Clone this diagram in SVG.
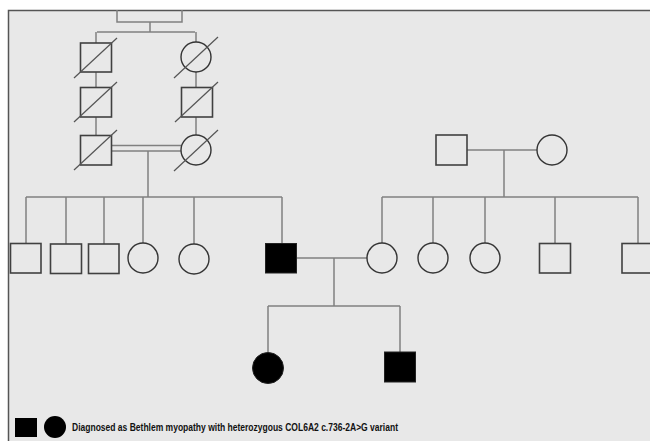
<svg xmlns="http://www.w3.org/2000/svg" width="650" height="441" viewBox="0 0 650 441">
<style>
.ln{stroke:#808080;stroke-width:1.5;fill:none}
.sq{fill:none;stroke:#404040;stroke-width:1.6}
.ci{fill:none;stroke:#333;stroke-width:1.4}
.aff{fill:#000;stroke:#222;stroke-width:1}
.sl{stroke:#555;stroke-width:1.2}
.lbl{font-family:"Liberation Sans",Arial,sans-serif;font-weight:bold;font-size:10.5px;fill:#111}
</style>
<rect x="0" y="0" width="650" height="441" fill="#fff"/>
<rect x="8.5" y="10.5" width="650" height="440" fill="#e8e8e8" stroke="#555" stroke-width="1.5"/>
<g id="connectors">
<path class="ln" d="M117,10 V22 H182 V10"/>
<path class="ln" d="M150,22 V32 M97,32 H195 M96,32 V43 M196,32 V42"/>
<path class="ln" d="M96,72 V87 M96,117 V135 M196,72 V87 M196,117 V135"/>
<path class="ln" d="M111,145.5 H181 M111,151 H181 M148,151 V197"/>
<path class="ln" d="M26,197 H282 M26,197 V243 M66,197 V244 M104,197 V244 M143,197 V243 M194,197 V244 M282,197 V243"/>
<path class="ln" d="M467,150 H537 M504,150 V197 M382,197 H638 M382,197 V243 M433,197 V243 M485,197 V243 M555,197 V243 M638,197 V243"/>
<path class="ln" d="M297,258 H367 M334,258 V306 M268,306 H400 M268,306 V352 M400,306 V352"/>
</g>
<g id="gen1-m1"><rect class="sq" x="80.5" y="43" width="31" height="29"/><line class="sl" x1="74" y1="78" x2="117" y2="38"/></g>
<g id="gen1-f1"><circle class="ci" cx="196" cy="57" r="15"/><line class="sl" x1="174" y1="78" x2="218" y2="37"/></g>
<g id="gen2-m1"><rect class="sq" x="80.5" y="87.5" width="31" height="29.5"/><line class="sl" x1="74" y1="122" x2="117" y2="82"/></g>
<g id="gen2-m2"><rect class="sq" x="181.5" y="87.5" width="31" height="29.5"/><line class="sl" x1="175" y1="122" x2="218" y2="82"/></g>
<g id="gen3-m1"><rect class="sq" x="80.5" y="135.5" width="31" height="29.5"/><line class="sl" x1="74" y1="170" x2="117" y2="130"/></g>
<g id="gen3-f1"><circle class="ci" cx="196" cy="150" r="15"/><line class="sl" x1="174" y1="171" x2="218" y2="130"/></g>
<g id="gen4-m1"><rect class="sq" x="10.5" y="243.5" width="30.5" height="29.5"/></g>
<g id="gen4-m2"><rect class="sq" x="50.5" y="244" width="31" height="29.5"/></g>
<g id="gen4-m3"><rect class="sq" x="88.5" y="244" width="30.5" height="29.5"/></g>
<g id="gen4-f1"><circle class="ci" cx="143" cy="258" r="15"/></g>
<g id="gen4-f2"><circle class="ci" cx="194" cy="259" r="15"/></g>
<g id="proband"><rect class="aff" x="265.5" y="243.5" width="31" height="29.5"/></g>
<g id="spouse-father"><rect class="sq" x="436" y="135" width="31" height="30"/></g>
<g id="spouse-mother"><circle class="ci" cx="552" cy="150" r="15"/></g>
<g id="spouse"><circle class="ci" cx="382" cy="258" r="15"/></g>
<g id="spouse-sib1"><circle class="ci" cx="433" cy="258" r="15"/></g>
<g id="spouse-sib2"><circle class="ci" cx="485" cy="258" r="15"/></g>
<g id="spouse-sib3"><rect class="sq" x="539.5" y="243.5" width="31" height="29.5"/></g>
<g id="spouse-sib4"><rect class="sq" x="622" y="243.5" width="31" height="29.5"/></g>
<g id="child-f"><circle class="aff" cx="268" cy="368" r="15.5"/></g>
<g id="child-m"><rect class="aff" x="384.5" y="352" width="31" height="30"/></g>
<g id="legend">
<rect x="15" y="418" width="22" height="19" fill="#000"/>
<circle cx="55" cy="427" r="11" fill="#000"/>
<text class="lbl" x="72" y="431" textLength="326" lengthAdjust="spacingAndGlyphs">Diagnosed as Bethlem myopathy with heterozygous COL6A2 c.736-2A&gt;G variant</text>
</g>
</svg>
